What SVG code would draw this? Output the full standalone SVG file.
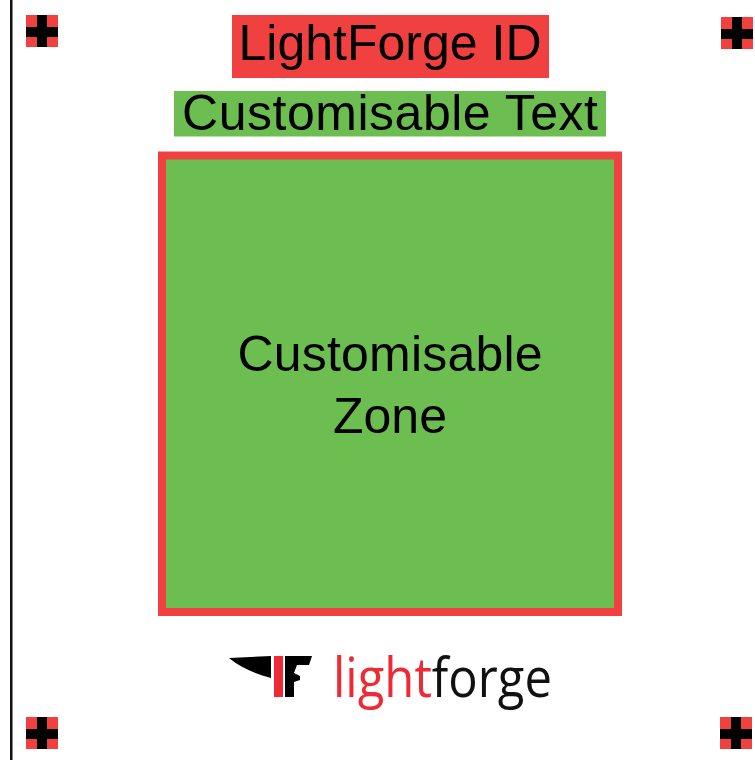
<svg xmlns="http://www.w3.org/2000/svg" width="755" height="760" viewBox="0 0 755 760">
<style>
.r{fill:#f04040}
.g{fill:#6dbe50}
.k{fill:#000}
.t{font-family:"Liberation Sans",Arial,sans-serif;font-size:50px;fill:#000;text-anchor:middle}
</style>
<defs>
<g id="mark"><rect class="r" width="32" height="32"/><rect class="k" x="11" width="10" height="32"/><rect class="k" y="12" width="32" height="10"/></g>
</defs>
<rect width="755" height="760" fill="#fff"/>
<rect id="edge" x="10" y="0" width="2.5" height="760" fill="#111"/>
<g id="mark-tl"><use href="#mark" x="26" y="15"/></g>
<g id="mark-tr"><use href="#mark" x="721" y="17"/></g>
<g id="mark-bl"><use href="#mark" x="26" y="717"/></g>
<g id="mark-br"><use href="#mark" x="720" y="717"/></g>
<g id="id-label"><rect class="r" x="232" y="15" width="317" height="63"/><text class="t" x="390" y="60" textLength="303">LightForge ID</text></g>
<g id="text-label"><rect class="g" x="174" y="91" width="432" height="45.5"/><text class="t" x="390" y="130" textLength="416">Customisable Text</text></g>
<g id="zone"><rect class="g" x="162" y="155.5" width="456" height="456.5" stroke="#f04040" stroke-width="8"/><text class="t" x="390" y="371" textLength="305">Customisable</text><text class="t" x="390" y="433">Zone</text></g>
<g id="logo">
<path class="k" d="M229 658L271 656V678C255 674 240 667 229 658Z"/>
<rect x="274" y="656" width="9" height="41" fill="#ee2a35"/>
<path class="k" d="M285 656H312L309 665H297L294 673L300 676V680L294 682V697H285Z"/>
<text x="333" y="697" font-family="'Open Sans','Noto Sans',sans-serif" font-weight="400" font-size="54" textLength="219" lengthAdjust="spacingAndGlyphs"><tspan fill="#ee2a35">light</tspan><tspan fill="#111">forge</tspan></text>
</g>
</svg>
